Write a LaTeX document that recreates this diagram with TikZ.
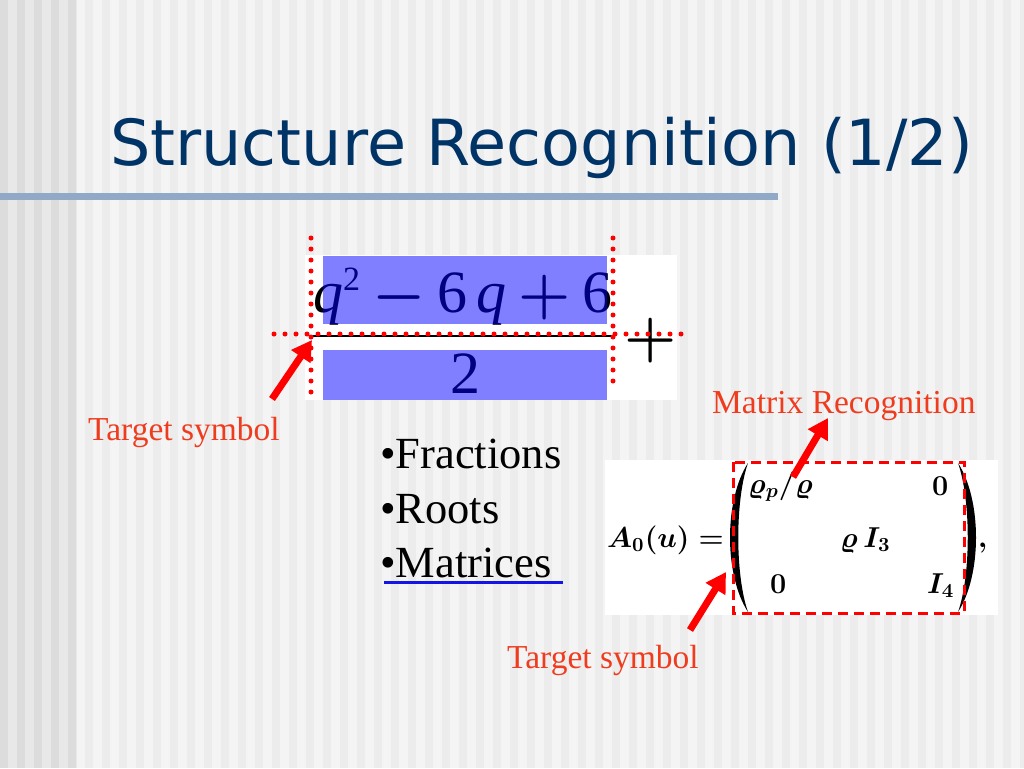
\documentclass[tikz,border=0pt]{standalone}
\usepackage{amsmath}
\usepackage{graphicx}
\usepackage{fontspec}
\setmainfont{Liberation Serif}
\newfontfamily\titlefont{DejaVu Sans}
\usetikzlibrary{arrows.meta}
\definecolor{titleblue}{RGB}{0,51,102}
\definecolor{sepcol}{RGB}{143,169,198}
\definecolor{bgbase}{RGB}{244,244,244}
\definecolor{bgstripe}{RGB}{236,236,236}
\definecolor{leftbase}{RGB}{232,232,232}
\definecolor{leftstripe}{RGB}{220,220,220}
\definecolor{labelred}{RGB}{240,60,30}
\definecolor{hlblue}{RGB}{0,0,255}
\definecolor{ulblue}{RGB}{20,20,230}
\newcommand{\mtxmath}[1]{\scalebox{2}{\fontsize{14}{16}\selectfont\boldmath$#1$}}
\newcommand{\bigop}[1]{\scalebox{2.4}{\fontsize{24.88}{26}\selectfont\boldmath$#1$}}
\tikzset{
  redarrow/.style={draw=red, line width=7pt, -{Triangle[length=20pt,width=22pt]}},
  reddots/.style={draw=red, line width=5pt, line cap=round, dash pattern=on 0pt off 11pt},
  reddash/.style={draw=red, line width=3pt, dash pattern=on 10pt off 6pt},
  hlbox/.style={fill=hlblue, fill opacity=0.5},
  lbl/.style={anchor=base west, inner sep=0pt, text=labelred, font=\fontsize{33.5}{36}\selectfont},
  bullet/.style={anchor=base west, inner sep=0pt, font=\fontsize{44.5}{48}\selectfont},
  mtx/.style={anchor=base west, inner sep=0pt},
  fracfont/.style={inner sep=0pt, font=\fontsize{60}{62}\selectfont},
}
\begin{document}
\begin{tikzpicture}[x=1pt,y=-1pt]
\useasboundingbox (0,0) rectangle (1024,768);
% background
\fill[bgbase] (0,0) rectangle (1024,768);
\foreach \i in {5,...,60} \fill[bgstripe] (\i*17,0) rectangle ++(8,768);
\fill[leftbase] (0,0) rectangle (77,768);
\foreach \i in {0,...,4} \fill[leftstripe] (\i*17,0) rectangle ++(8,768);
% title
\node[anchor=base west, inner sep=0pt, text=titleblue, font=\titlefont\fontsize{63.6}{70}\selectfont] (title) at (110,165) {Structure Recognition (1/2)};
\fill[sepcol] (0,193) rectangle (778,200);
% fraction image
\fill[white] (305,255) rectangle (677,400);
\node[fracfont, anchor=base west] (num) at (313,312) {\textit{q}\raisebox{0.36em}{\fontsize{34}{34}\selectfont 2}\hspace{0.2em}\bigop{-}\hspace{0.2em}6\hspace{0.15em}\textit{q}\hspace{0.2em}\bigop{+}\hspace{0.2em}6};
\node[fracfont, anchor=base] (den) at (465,393) {2};
\node[fracfont, anchor=base] (plus) at (651,355) {\bigop{+}};
\fill[hlbox] (323,256) rectangle (607,324);
\fill[hlbox] (323,350) rectangle (607,400);
\draw[line width=2pt] (313,336) -- (611,336);
\draw[reddots] (311,238) -- (311,400);
\draw[reddots] (613,238) -- (613,392);
\draw[reddots] (274,334) -- (684,334);
% labels
\node[lbl] (t1) at (88,440) {Target symbol};
\node[lbl] (mr) at (712,413) {Matrix Recognition};
\node[lbl] (t2) at (507,668) {Target symbol};
% bullets
\node[bullet] (b1) at (380,468) {•Fractions};
\node[bullet] (b2) at (380,523) {•Roots};
\node[bullet] (b3) at (380,577) {•Matrices };
\fill[ulblue] (384,581) rectangle (563,584);
% matrix image
\fill[white] (605,460) rectangle (998,615);
\node[mtx] (a0) at (607,547) {\mtxmath{A_0(u) =}};
\node[mtx] (m11) at (748,493) {\mtxmath{\varrho_p/\varrho}};
\node[mtx] (m13) at (932,495) {\mtxmath{0}};
\node[mtx] (m22) at (840,547) {\mtxmath{\varrho\, I_3}};
\node[mtx] (m31) at (770,593) {\mtxmath{0}};
\node[mtx] (m33) at (927,593) {\mtxmath{I_4}};
\node[mtx] (comma) at (978,547) {\mtxmath{,}};
\fill (748,463) .. controls (724,500) and (724,575) .. (748,612) .. controls (735,575) and (735,500) .. (748,463) -- cycle;
\fill (958,463) .. controls (982,500) and (982,575) .. (958,612) .. controls (971,575) and (971,500) .. (958,463) -- cycle;
\draw[reddash] (733,462) rectangle (964,613);
% arrows
\coordinate (a1s) at (272,399); \coordinate (a1e) at (312,340);
\coordinate (a2s) at (793,477); \coordinate (a2e) at (828,418);
\coordinate (a3s) at (690,630); \coordinate (a3e) at (726,572);
\draw[redarrow] (a1s) -- (a1e);
\draw[redarrow] (a2s) -- (a2e);
\draw[redarrow] (a3s) -- (a3e);
\end{tikzpicture}
\end{document}
